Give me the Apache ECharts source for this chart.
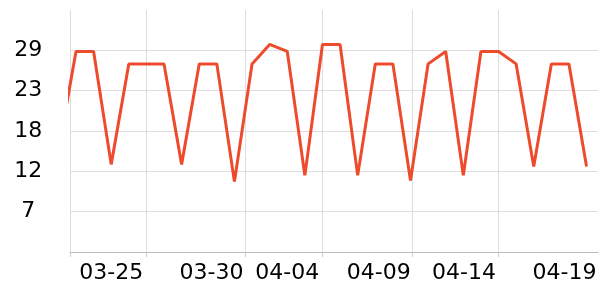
<!DOCTYPE html>
<html>
<head>
<meta charset="utf-8">
<script src="https://cdn.jsdelivr.net/npm/echarts@6/dist/echarts.min.js"></script>
<style>html,body{margin:0;padding:0;background:#fff}#c{width:600px;height:300px}</style>
</head>
<body>
<div id="c"></div>
<script>
const dates = ['2024-03-22','2024-03-23','2024-03-24','2024-03-25','2024-03-26','2024-03-27','2024-03-28','2024-03-29','2024-03-30','2024-03-31',
  '2024-04-01','2024-04-02','2024-04-03','2024-04-04','2024-04-05','2024-04-06','2024-04-07','2024-04-08','2024-04-09','2024-04-10',
  '2024-04-11','2024-04-12','2024-04-13','2024-04-14','2024-04-15','2024-04-16','2024-04-17','2024-04-18','2024-04-19','2024-04-20','2024-04-21'];
const values = [15.0, 28.6, 28.6, 13.2, 26.9, 26.9, 26.9, 13.2, 26.9, 26.9,
  10.85, 26.9, 29.55, 28.6, 11.7, 29.55, 29.55, 11.7, 26.9, 26.9,
  11.0, 26.9, 28.6, 11.7, 28.6, 28.6, 26.9, 12.9, 26.9, 26.9, 12.9];
const xMin = '2024-03-22T15:50:00';
const xMax = '2024-04-21T15:36:00';
const gridTicks = ['2024-03-22T15:50:00','2024-03-27T00:00:00','2024-04-01T14:10:00','2024-04-06T00:00:00','2024-04-11T02:10:00','2024-04-16T00:00:00'];
const labelTicks = ['2024-03-25T00:00:00','2024-03-30T16:48:00','2024-04-04T00:00:00','2024-04-09T04:48:00','2024-04-14T01:00:00','2024-04-19T18:00:00'];
const yMin = 1.25, yMax = 34.25, yStep = 5.5;

const ts = s => new Date(s).getTime();
const chart = echarts.init(document.getElementById('c'));
chart.setOption({
  animation: false,
  grid: { left: 70, right: 2, top: 10, bottom: 48, containLabel: false },
  xAxis: {
    type: 'time',
    min: ts(xMin), max: ts(xMax),
    axisLine: { show: true, lineStyle: { color: '#bbb', width: 1 } },
    axisTick: { show: true, length: 5, customValues: gridTicks.map(ts), lineStyle: { color: '#ccc' } },
    splitLine: { show: true, lineStyle: { color: '#ddd', width: 1 } },
    axisLabel: {
      customValues: labelTicks.map(ts),
      formatter: '{MM}-{dd}',
      color: '#000', fontFamily: 'DejaVu Sans', fontSize: 22, margin: 10,
      hideOverlap: false
    }
  },
  yAxis: {
    type: 'value',
    min: yMin, max: yMax, interval: yStep,
    axisLine: { show: false }, axisTick: { show: false },
    splitLine: { show: true, showMaxLine: false, showMinLine: false, lineStyle: { color: '#ddd', width: 1 } },
    axisLabel: {
      showMinLabel: false, showMaxLabel: false,
      formatter: v => String(Math.round(v)),
      align: 'center', margin: 41.7,
      color: '#000', fontFamily: 'DejaVu Sans', fontSize: 22
    }
  },
  series: [{
    type: 'line',
    data: dates.map((d, i) => [ts(d + 'T00:00:00'), values[i]]),
    showSymbol: false,
    symbol: 'none',
    clip: true,
    lineStyle: { color: '#ee4a2c', width: 3 }
  }]
});
</script>
</body>
</html>
